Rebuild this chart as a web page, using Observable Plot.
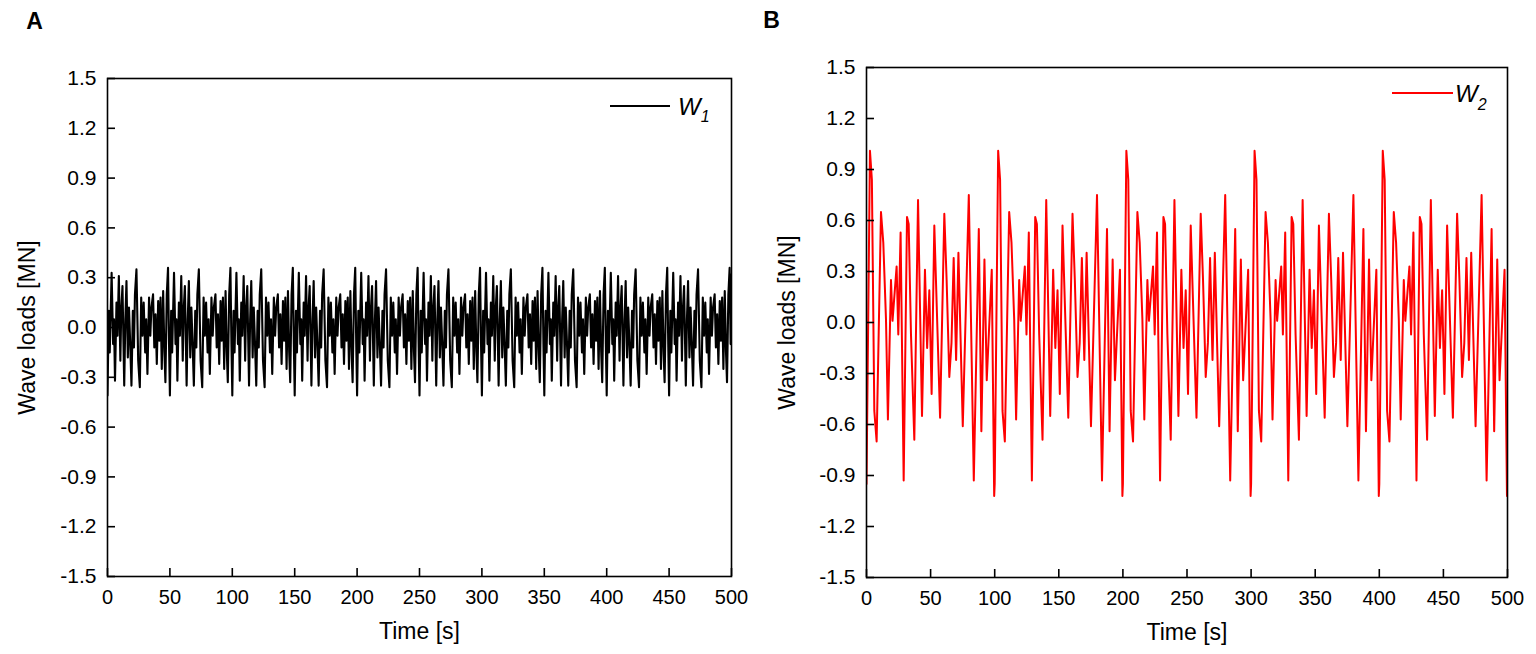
<!DOCTYPE html>
<html>
<head>
<meta charset="utf-8">
<script src="https://cdn.jsdelivr.net/npm/d3@7"></script>
<script src="https://cdn.jsdelivr.net/npm/@observablehq/plot@0.6"></script>
<style>
  body { margin: 0; background: #fff; }
  #wrap { position: relative; width: 1536px; height: 654px; overflow: hidden; background: #fff; }
  #wrap > svg { position: absolute; top: 0; }
</style>
</head>
<body>
<div id="wrap"></div>
<script>
// ---------------- data ----------------
// Axis ticks
const xTicks = [0, 50, 100, 150, 200, 250, 300, 350, 400, 450, 500];
const yTicks = [-1.5, -1.2, -0.9, -0.6, -0.3, 0, 0.3, 0.6, 0.9, 1.2, 1.5];

// Panel A (W1): the recorded signal repeats every 50 s; one period of read extrema
const periodA = 50;
const cyclesA = 10;
const periodATime = [0.0, 1.0, 1.8, 3.3, 4.5, 5.2, 6.0, 7.2, 8.0, 9.1, 10.3, 11.0, 12.0, 13.4, 14.3, 15.2,
  16.3, 17.2, 18.2, 19.2, 20.3, 21.2, 22.0, 23.2, 24.6, 25.9, 27.0, 28.0, 29.0, 30.2, 31.0, 32.0,
  33.3, 34.3, 35.2, 36.5, 37.5, 38.5, 39.5, 40.6, 41.5, 42.5, 43.5, 44.6, 45.6, 46.4, 47.5, 48.5, 49.3];
const periodAValue = [-0.41, 0.10, -0.15, 0.33, -0.10, 0.05, -0.32, 0.15, -0.05, 0.31, -0.20, 0.10, 0.25, -0.35, 0.05, 0.28,
  -0.18, 0.12, -0.10, -0.35, 0.10, -0.12, 0.20, 0.35, -0.20, -0.36, 0.18, -0.05, 0.15, -0.15, 0.05, -0.28,
  0.18, -0.05, 0.12, 0.20, -0.12, 0.08, -0.22, 0.16, -0.08, 0.18, -0.25, 0.22, -0.15, -0.33, 0.20, 0.36, -0.10];
const endA = {t: 500, v: 0.32};

// Panel B (W2): the recorded signal repeats every 100 s; one period of read extrema
const periodB = 100;
const cyclesB = 5;
const periodBTime = [0.0, 2.7, 4.2, 6.1, 7.9, 11.3, 13.1, 15.2, 16.7, 19.1, 20.3, 21.5, 23.5, 24.8, 26.6, 29.0,
  31.6, 32.9, 34.7, 37.3, 40.2, 43.3, 45.6, 47.3, 49.0, 50.8, 52.9, 57.4, 60.7, 62.5, 64.6, 66.3,
  68.0, 69.9, 71.7, 75.1, 79.8, 83.7, 87.6, 89.6, 92.0, 93.8, 97.7, 99.6];
const periodBValue = [-0.95, 1.01, 0.84, -0.52, -0.70, 0.65, 0.47, 0.02, -0.57, 0.25, 0.01, 0.13, 0.33, -0.07, 0.53, -0.93,
  0.62, 0.58, -0.07, -0.69, 0.72, -0.55, 0.31, -0.15, 0.19, -0.42, 0.57, -0.56, 0.64, 0.25, -0.32, -0.12,
  0.38, -0.22, 0.41, -0.61, 0.75, -0.93, 0.55, -0.64, 0.37, -0.34, 0.31, -1.02];
const endB = {t: 500, v: -0.95};

// ---------------- build series from the read period ----------------
function tile(times, values, period, cycles, end) {
  const out = [];
  for (let k = 0; k < cycles; k++) {
    times.forEach((t, i) => out.push({t: t + period * k, v: values[i]}));
  }
  out.push(end);
  return out;
}
const seriesA = tile(periodATime, periodAValue, periodA, cyclesA, endA);
const seriesB = tile(periodBTime, periodBValue, periodB, cyclesB, endB);

// ---------------- drawing ----------------
const FONT = "'Liberation Sans', Arial, Helvetica, sans-serif";

function panel({data, color, lineWidth, mLeft, mRight, mTop, mBottom, letter, letterDx, letterDy, yTitleDx, xTitleDy}) {
  const W = 768, H = 654;
  const innerW = W - mLeft - mRight;
  const innerH = H - mTop - mBottom;
  return Plot.plot({
    width: W,
    height: H,
    marginLeft: mLeft,
    marginRight: mRight,
    marginTop: mTop,
    marginBottom: mBottom,
    x: {domain: [0, 500], label: null},
    y: {domain: [-1.5, 1.5], label: null},
    style: {fontFamily: FONT, fontSize: "20px", color: "black", background: "white", overflow: "visible"},
    marks: [
      Plot.line(data, {x: "t", y: "v", stroke: color, strokeWidth: lineWidth, clip: true}),
      Plot.frame({stroke: "black", strokeWidth: 1.6}),
      Plot.tickX(xTicks, {x: d => d, stroke: "black", strokeWidth: 1.6, insetTop: innerH - 8}),
      Plot.tickY(yTicks, {y: d => d, stroke: "black", strokeWidth: 1.6, insetRight: innerW - 8}),
      Plot.axisX(xTicks, {tickSize: 0, tickPadding: 13, fontSize: 20, label: null, tickFormat: d => String(d), fill: "black"}),
      Plot.axisY(yTicks, {tickSize: 0, tickPadding: 11, fontSize: 21, label: null, tickFormat: d => d.toFixed(1), fill: "black"}),
      Plot.text(["Time [s]"], {frameAnchor: "bottom", textAnchor: "middle", lineAnchor: "middle", dy: xTitleDy, fontSize: 23, fill: "black"}),
      Plot.text(["Wave loads [MN]"], {frameAnchor: "left", textAnchor: "middle", lineAnchor: "middle", dx: yTitleDx, rotate: -90, fontSize: 23, fill: "black"}),
      Plot.text([letter], {frameAnchor: "top-left", textAnchor: "middle", lineAnchor: "middle", dx: letterDx, dy: letterDy, fontSize: 23, fontWeight: "bold", fill: "black"})
    ]
  });
}

const wrap = document.getElementById("wrap");

const plotA = panel({
  data: seriesA, color: "black", lineWidth: 2.1,
  mLeft: 107, mRight: 37, mTop: 78, mBottom: 78,
  letter: "A", letterDx: -73, letterDy: -57, yTitleDx: -80, xTitleDy: 55
});
plotA.style.left = "0px";
wrap.appendChild(plotA);

const plotB = panel({
  data: seriesB, color: "#ff0000", lineWidth: 2,
  mLeft: 98, mRight: 29, mTop: 67, mBottom: 77,
  letter: "B", letterDx: -95, letterDy: -47, yTitleDx: -79, xTitleDy: 55
});
plotB.style.left = "768px";
wrap.appendChild(plotB);

// ---------------- legends ----------------
const NS = "http://www.w3.org/2000/svg";
const leg = document.createElementNS(NS, "svg");
leg.setAttribute("width", 1536);
leg.setAttribute("height", 654);
leg.style.position = "absolute";
leg.style.left = "0px";
leg.style.top = "0px";
leg.style.pointerEvents = "none";
leg.innerHTML = `
  <line x1="610" x2="670" y1="106" y2="106" stroke="black" stroke-width="2"/>
  <text x="678" y="115" font-family="${FONT}" font-size="24" font-style="italic" fill="black">W<tspan font-size="16" dy="7">1</tspan></text>
  <line x1="1392" x2="1453" y1="93" y2="93" stroke="#ff0000" stroke-width="2"/>
  <text x="1455" y="102" font-family="${FONT}" font-size="24" font-style="italic" fill="black">W<tspan font-size="16" dy="8">2</tspan></text>
`;
wrap.appendChild(leg);
</script>
</body>
</html>
